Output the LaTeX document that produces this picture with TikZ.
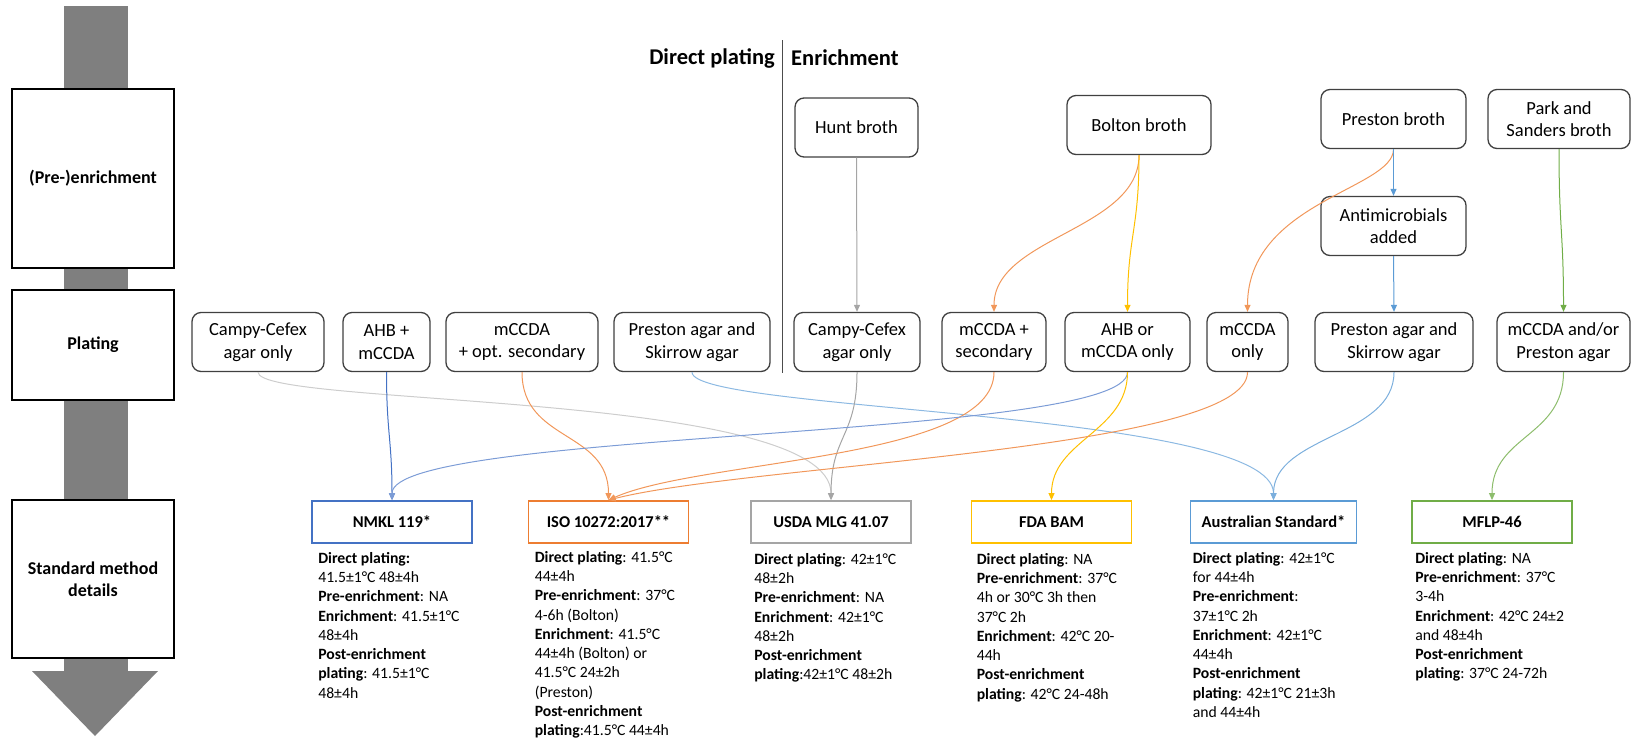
\documentclass[tikz,border=0pt]{standalone}
\usepackage{fontspec}
\setmainfont{Carlito}
\usetikzlibrary{arrows.meta}

\definecolor{msblue}{HTML}{4472C4}
\definecolor{msorange}{HTML}{ED7D31}
\definecolor{msgray}{HTML}{A5A5A5}
\definecolor{msgold}{HTML}{FFC000}
\definecolor{mslightblue}{HTML}{5B9BD5}
\definecolor{msgreen}{HTML}{70AD47}
\definecolor{arrowgray}{HTML}{7F7F7F}

\tikzset{
  stage/.style={draw=black, line width=1.2pt, fill=white, align=center, inner sep=0pt,
    minimum width=162pt, font=\bfseries\fontsize{18}{22}\selectfont},
  medium/.style={draw=black!75, line width=1.3pt, rounded corners=9pt, fill=white, align=center,
    inner sep=0pt, minimum height=59pt, font=\fontsize{18.5}{22.5}\selectfont},
  method/.style={draw=#1, line width=1.8pt, fill=white, inner sep=0pt, minimum width=160pt,
    minimum height=42pt, font=\bfseries\fontsize{16.5}{20}\selectfont},
  details/.style={anchor=north west, align=left, inner sep=0pt, font=\fontsize{15.7}{19.3}\selectfont},
  link/.style={draw=#1, line width=1pt, -{Triangle[length=7pt,width=6pt]}},
  head/.style={font=\bfseries\fontsize{22.5}{27}\selectfont, inner sep=0pt}
}

\begin{document}
\begin{tikzpicture}[x=1pt, y=-1pt]
	\useasboundingbox (0,0) rectangle (1632,737);
	% big downward arrow behind the stage labels
	\fill[arrowgray] (64,6) rectangle (128,672);
	\fill[arrowgray] (32,671) -- (158,671) -- (95,736) -- cycle;
	\node[stage, minimum height=179pt] (prestage) at (93,178.5) {(Pre-)enrichment};
	\node[stage, minimum height=110pt] (platestage) at (93,345) {Plating};
	\node[stage, minimum height=158pt] (methstage) at (93,579) {Standard method\\details};

	\node[head, anchor=east] (dphead) at (775,58) {Direct plating};
	\node[head, anchor=west] (enhead) at (791,58) {Enrichment};
	\draw[black!70, line width=0.8pt] (782,40) -- (782,373);

	% broths
	\node[medium, minimum width=123pt] (hunt) at (856.5,127.5) {Hunt broth};
	\node[medium, minimum width=144pt] (bolton) at (1139,125) {Bolton broth};
	\node[medium, minimum width=145pt] (prestbroth) at (1393.5,119) {Preston broth};
	\node[medium, minimum width=142pt] (park) at (1559,119) {Park and\\Sanders broth};
	\node[medium, minimum width=145pt] (antimic) at (1393.5,226) {Antimicrobials\\added};

	% plating media
	\node[medium, minimum width=132pt] (campyA) at (258,342) {Campy-Cefex\\agar only};
	\node[medium, minimum width=87pt] (ahbA) at (386.5,342) {AHB +\\mCCDA};
	\node[medium, minimum width=152pt] (mccdaopt) at (522,342) {mCCDA\\+ opt. secondary};
	\node[medium, minimum width=156pt] (prestonA) at (692,342) {Preston agar and\\Skirrow agar};
	\node[medium, minimum width=126pt] (campyB) at (857,342) {Campy-Cefex\\agar only};
	\node[medium, minimum width=104pt] (mccdasec) at (994,342) {mCCDA +\\secondary};
	\node[medium, minimum width=125pt] (ahbB) at (1127.5,342) {AHB or\\mCCDA only};
	\node[medium, minimum width=81pt] (mccdaonly) at (1247.5,342) {mCCDA\\only};
	\node[medium, minimum width=158pt] (prestonB) at (1394,342) {Preston agar and\\Skirrow agar};
	\node[medium, minimum width=133pt] (mccdaor) at (1563.5,342) {mCCDA and/or\\Preston agar};

	% standard methods
	\node[method=msblue] (nmkl) at (392,522) {NMKL 119*};
	\node[method=msorange] (iso) at (608.5,522) {ISO 10272:2017**};
	\node[method=msgray] (usda) at (831,522) {USDA MLG 41.07};
	\node[method=msgold] (fda) at (1051.5,522) {FDA BAM};
	\node[method=mslightblue, minimum width=166pt] (aus) at (1273.5,522) {Australian Standard*};
	\node[method=msgreen] (mflp) at (1492,522) {MFLP-46};

	\node[details] (nmkltxt) at ([shift={(7,8)}]nmkl.south west) {\textbf{Direct plating:}\\41.5±1°C 48±4h\\\textbf{Pre-enrichment}: NA\\\textbf{Enrichment}: 41.5±1°C\\48±4h\\\textbf{Post-enrichment}\\\textbf{plating}: 41.5±1°C\\48±4h};
	\node[details] (isotxt) at ([shift={(7,7)}]iso.south west) {\textbf{Direct plating}: 41.5°C\\44±4h\\\textbf{Pre-enrichment}: 37°C\\4-6h (Bolton)\\\textbf{Enrichment}: 41.5°C\\44±4h (Bolton) or\\41.5°C 24±2h\\(Preston)\\\textbf{Post-enrichment}\\\textbf{plating}:41.5°C 44±4h};
	\node[details] (usdatxt) at ([shift={(4,9)}]usda.south west) {\textbf{Direct plating}: 42±1°C\\48±2h\\\textbf{Pre-enrichment}: NA\\\textbf{Enrichment}: 42±1°C\\48±2h\\\textbf{Post-enrichment}\\\textbf{plating}:42±1°C 48±2h};
	\node[details] (fdatxt) at ([shift={(6,9)}]fda.south west) {\textbf{Direct plating}: NA\\\textbf{Pre-enrichment}: 37°C\\4h or 30°C 3h then\\37°C 2h\\\textbf{Enrichment}: 42°C 20-\\44h\\\textbf{Post-enrichment}\\\textbf{plating}: 42°C 24-48h};
	\node[details] (austxt) at ([shift={(3,8)}]aus.south west) {\textbf{Direct plating}: 42±1°C\\for 44±4h\\\textbf{Pre-enrichment}:\\37±1°C 2h\\\textbf{Enrichment}: 42±1°C\\44±4h\\\textbf{Post-enrichment}\\\textbf{plating}: 42±1°C 21±3h\\and 44±4h};
	\node[details] (mflptxt) at ([shift={(4,8)}]mflp.south west) {\textbf{Direct plating}: NA\\\textbf{Pre-enrichment}: 37°C\\3-4h\\\textbf{Enrichment}: 42°C 24±2\\and 48±4h\\\textbf{Post-enrichment}\\\textbf{plating}: 37°C 24-72h};

	% broth -> plating
	\draw[link=msgray] (hunt.south) -- (campyB.north);
	\draw[link=msorange!80] (bolton.south) .. controls +(0,75) and +(0,-75) .. (mccdasec.north);
	\draw[link=msgold] (bolton.south) .. controls +(0,75) and +(0,-75) .. (ahbB.north);
	\draw[link=msorange!80] (prestbroth.south) .. controls +(0,40) and +(0,-110) .. (mccdaonly.north);
	\draw[link=mslightblue] (prestbroth.south) -- (antimic.north);
	\draw[link=mslightblue] (antimic.south) -- (prestonB.north);
	\draw[link=msgreen] (park.south) .. controls +(0,80) and +(0,-80) .. (mccdaor.north);

	% plating -> standard method
	\draw[link=msgray!55] (campyA.south) .. controls +(0,35) and +(0,-110) .. (usda.north);
	\draw[link=msblue] (ahbA.south) .. controls +(0,60) and +(0,-60) .. (nmkl.north);
	\draw[link=msorange!80] (mccdaopt.south) .. controls +(0,70) and +(0,-70) .. (iso.north);
	\draw[link=mslightblue!70] (prestonA.south) .. controls +(0,40) and +(0,-90) .. (aus.north);
	\draw[link=msgray] (campyB.south) .. controls +(0,65) and +(0,-65) .. (usda.north);
	\draw[link=msorange!80] (mccdasec.south) .. controls +(0,88) and +(91.5,-41) .. (iso.north);
	\draw[link=msblue!70] (ahbB.south) .. controls +(0,68) and +(0,-71) .. (nmkl.north);
	\draw[link=msgold] (ahbB.south) .. controls +(0,60) and +(0,-60) .. (fda.north);
	\draw[link=msorange!80] (mccdaonly.south) .. controls +(0,78) and +(141.5,-36) .. (iso.north);
	\draw[link=mslightblue!80] (prestonB.south) .. controls +(0,65) and +(0,-65) .. (aus.north);
	\draw[link=msgreen!80] (mccdaor.south) .. controls +(0,65) and +(0,-65) .. (mflp.north);
\end{tikzpicture}
\end{document}
